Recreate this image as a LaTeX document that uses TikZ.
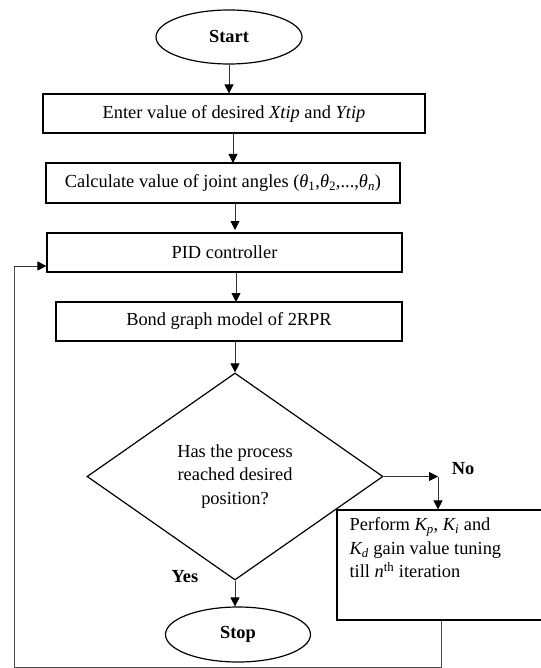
\documentclass[tikz,border=0pt]{standalone}
\usepackage{fontspec}
\setmainfont{Liberation Serif}
\usetikzlibrary{shapes.geometric, arrows.meta, positioning, calc}

\newcommand{\flowfont}{\fontsize{18.4}{23.5}\selectfont}

\tikzset{
  stepbox/.style={draw, line width=1.2pt, rectangle, inner sep=0pt, minimum height=39pt},
  terminal/.style={draw, line width=1.2pt, ellipse, inner sep=0pt, font=\flowfont\bfseries},
  decision/.style={draw, line width=1.2pt, diamond, inner sep=0pt, minimum width=296pt, minimum height=207pt, align=center},
  flow/.style={line width=0.8pt, black!80, -{Triangle[length=9pt,width=9pt,black]}},
  flowline/.style={line width=0.8pt, black!70}
}

\begin{document}
\begin{tikzpicture}[x=1pt, y=-1pt, font=\flowfont]
\useasboundingbox (0,0) rectangle (540,668);
% Main column
\node[terminal, minimum width=146pt, minimum height=54pt] (start) at (229,37) {Start};
\node[stepbox, minimum width=382pt] (enter) at (234,113.5) {Enter value of desired \textit{Xtip} and \textit{Ytip}};
\node[stepbox, minimum width=354pt, minimum height=40pt] (angles) at (223,183) {Calculate value of joint angles (\textit{θ}\textsubscript{1},\textit{θ}\textsubscript{2},...,\textit{θ}\textsubscript{\textit{n}})};
\node[stepbox, minimum width=355pt] (pid) at (224.5,252.5) {PID controller};
\node[stepbox, minimum width=346pt] (bond) at (229,321.5) {Bond graph model of 2RPR};
\node[decision] (check) at (235,476.5) {Has the process\\reached desired\\position?};
\node[terminal, minimum width=145pt, minimum height=55pt] (stop) at (238,634.5) {Stop};
% Tuning branch
\node[stepbox, minimum width=208pt, minimum height=110pt] (tune) at (441,565) {};
\node[anchor=north west, align=left, inner sep=0pt] (tunetext) at ($(tune.north west)+(13,8)$)
  {Perform \textit{K\textsubscript{p}}, \textit{K\textsubscript{i}} and\\\textit{K\textsubscript{d}} gain value tuning\\till \textit{n}\textsuperscript{th} iteration};
\coordinate (noturn) at (438,476.5);
\coordinate (back1) at (441,667);
\coordinate (back2) at (14,667);
\coordinate (back3) at (14,266);
% Connectors
\draw[flow] (start) -- (start |- enter.north);
\draw[flow] (233,133) -- (233,163);
\draw[flow] (235,203) -- (235,230);
\draw[flow] (236,272) -- (236,302);
\draw[flow] (235,341) -- (check.north);
\draw[flow] (check.south) -- (check.south |- stop.north);
\draw[flow] (check.east) -- (noturn);
\draw[flow] (noturn) -- (noturn |- tune.north);
\draw[flowline] (tune.south -| back1) -- (back1) -- (back2) -- (back3);
\draw[flow] (back3) -- (back3 -| pid.west);
% Labels
\node[font=\flowfont\bfseries] (nolabel) at (463,469) {No};
\node[font=\flowfont\bfseries] (yeslabel) at (185,577) {Yes};
\end{tikzpicture}
\end{document}
